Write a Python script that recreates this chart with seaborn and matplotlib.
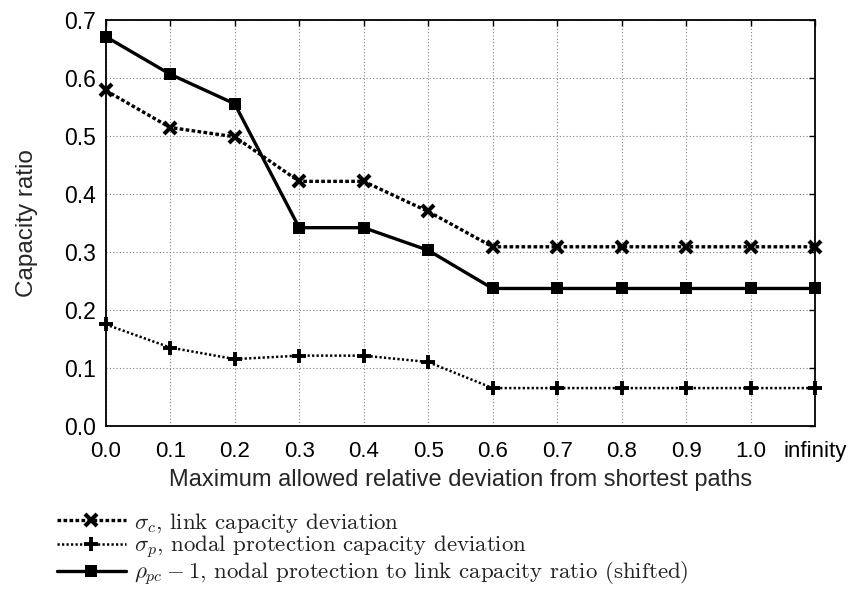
import matplotlib
matplotlib.use("Agg")
import matplotlib.pyplot as plt
import seaborn as sns
import pandas as pd

# ---- data ----
x_labels = ["0.0", "0.1", "0.2", "0.3", "0.4", "0.5", "0.6", "0.7", "0.8", "0.9", "1.0", "infinity"]
sigma_c = [0.579, 0.515, 0.499, 0.422, 0.422, 0.370, 0.309, 0.309, 0.309, 0.309, 0.309, 0.309]
sigma_p = [0.175, 0.135, 0.115, 0.121, 0.121, 0.110, 0.065, 0.065, 0.065, 0.065, 0.065, 0.065]
rho_pc = [0.672, 0.607, 0.556, 0.342, 0.342, 0.303, 0.237, 0.237, 0.237, 0.237, 0.237, 0.237]
y_ticks = [0.0, 0.1, 0.2, 0.3, 0.4, 0.5, 0.6, 0.7]

labels = [
    r"$\sigma_c$, link capacity deviation",
    r"$\sigma_p$, nodal protection capacity deviation",
    r"$\rho_{pc}-1$, nodal protection to link capacity ratio (shifted)",
]

sns.set_style("white")
plt.rcParams["font.family"] = ["Liberation Sans", "DejaVu Sans"]
plt.rcParams["mathtext.fontset"] = "cm"

rows = []
for lab, vals in zip(labels, [sigma_c, sigma_p, rho_pc]):
    for i, v in enumerate(vals):
        rows.append({"series": lab, "pos": i, "value": v})
df = pd.DataFrame(rows)

fig = plt.figure(figsize=(8.51, 5.93), dpi=100)
ax = fig.add_axes([105.7 / 851, 1 - 425.7 / 593, (815 - 105.7) / 851, (425.7 - 20.4) / 593])

styles = {
    labels[0]: dict(marker="x", markersize=9, markeredgewidth=3.0, linewidth=2.4,
                    linestyle=(0, (1.1, 0.7))),
    labels[1]: dict(marker="+", markersize=10, markeredgewidth=2.8, linewidth=1.8,
                    linestyle=(0, (0.9, 0.9))),
    labels[2]: dict(marker="s", markersize=8.2, markeredgewidth=0, linewidth=2.4,
                    linestyle="-"),
}

for lab in labels:
    sub = df[df["series"] == lab]
    sns.lineplot(data=sub, x="pos", y="value", ax=ax, color="black", label=lab,
                 markerfacecolor="black", markeredgecolor="black", clip_on=False,
                 zorder=3, **styles[lab])

ax.set_xlim(0, len(x_labels) - 1)
ax.set_ylim(0, 0.7)
ax.set_xticks(range(len(x_labels)))
ax.set_xticklabels(x_labels, fontsize=16)
ax.set_yticks(y_ticks)
ax.set_yticklabels([f"{t:.1f}" for t in y_ticks], fontsize=16.5)

ax.grid(True, linestyle=(0, (1, 2)), color="#808080", linewidth=0.8)
ax.set_axisbelow(True)
for s in ax.spines.values():
    s.set_linewidth(1.3)
    s.set_color("black")
ax.tick_params(direction="in", length=4, width=1, top=True, right=True, colors="black",
               labelcolor="black")
ax.tick_params(axis="x", pad=11)
ax.tick_params(axis="y", pad=7)

ax.set_xlabel("Maximum allowed relative deviation from shortest paths",
              fontsize=17, labelpad=5)
ax.set_ylabel("Capacity ratio", fontsize=17.5, labelpad=19)

if ax.get_legend() is not None:
    ax.get_legend().remove()
handles = ax.get_lines()[:3]
fig.legend(handles, labels, loc="upper left", bbox_to_anchor=(57 / 851, 1 - 511 / 593),
           frameon=False, prop={"family": "cmr10", "size": 16.5}, handlelength=3.0,
           handletextpad=0.35, labelspacing=-0.05, borderpad=0, borderaxespad=0,
           numpoints=1, labelcolor="#222222")

fig.savefig("out.png", dpi=100)
